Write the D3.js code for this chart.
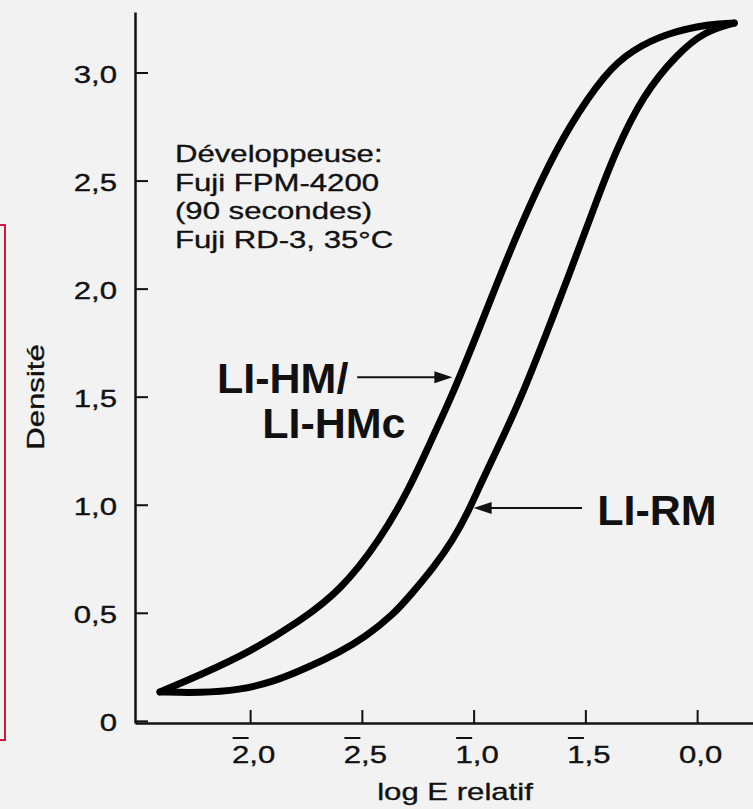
<!DOCTYPE html>
<html>
<head>
<meta charset="utf-8">
<script src="https://cdn.jsdelivr.net/npm/d3@7"></script>
<style>
    html, body { margin: 0; padding: 0; background: #f2f2f2; }
    svg { display: block; }
</style>
</head>
<body>
<div id="chart"></div>
<script>
/* DATA */
// X ticks (log E relatif, bar notation for negative characteristic)
const xTicks = [-2, -1.5, -1, -0.5, 0];
const xTickInt = ["2", "2", "1", "1", "0"];
const xTickFrac = ["0", "5", "0", "5", "0"];
const xTickBar = [true, true, true, true, false];
// Y ticks (Densité)
const yTicks = [0, 0.5, 1, 1.5, 2, 2.5, 3];
const yTickLabels = ["0", "0,5", "1,0", "1,5", "2,0", "2,5", "3,0"];
// LI-HM / LI-HMc curve
const hmLogE = [-2.403, -2.224, -2.000, -1.776, -1.597, -1.418, -1.284, -1.195, -1.105, -0.998, -0.904, -0.805, -0.698, -0.573, -0.407, -0.291, -0.134, 0.058, 0.166];
const hmDens = [0.134, 0.212, 0.319, 0.462, 0.601, 0.837, 1.082, 1.286, 1.485, 1.753, 2.003, 2.253, 2.503, 2.753, 3.003, 3.104, 3.183, 3.225, 3.229];
// LI-RM curve
const rmLogE = [-2.403, -2.224, -2.045, -1.897, -1.745, -1.597, -1.486, -1.360, -1.271, -1.181, -1.092, -1.025, -0.971, -0.881, -0.792, -0.680, -0.568, -0.465, -0.367, -0.242, -0.090, 0.036, 0.166];
const rmDens = [0.134, 0.129, 0.143, 0.180, 0.245, 0.319, 0.388, 0.490, 0.596, 0.707, 0.837, 0.966, 1.091, 1.286, 1.485, 1.776, 2.077, 2.364, 2.632, 2.896, 3.086, 3.192, 3.229];
// Notes
const devLines = ["Développeuse:", "Fuji FPM-4200", "(90 secondes)", "Fuji RD-3, 35°C"];

/* LAYOUT */
const W = 753, H = 809;
const font = "'Liberation Sans', Arial, Helvetica, sans-serif";
const ink = "#111";
const fs = 24.5;
const sx = 1.27; // regular text is set wide in the original

const svg = d3.select("#chart")
    .append("svg")
    .attr("width", W)
    .attr("height", H)
    .style("font-family", font);

svg.append("rect")
    .attr("width", W)
    .attr("height", H)
    .attr("fill", "#f2f2f2");

// Red crop mark at left
svg.append("rect")
    .attr("x", -10)
    .attr("y", 225)
    .attr("width", 15)
    .attr("height", 515)
    .attr("fill", "none")
    .attr("stroke", "#d3173f")
    .attr("stroke-width", 2);

// Scales
const x = d3.scaleLinear().domain([-2.515, 0.25]).range([135, 753]);
const y = d3.scaleLinear().domain([-0.01, 3.28]).range([723, 12]);

// Regular text helper (slightly heavier, wide set)
function regText(sel) {
    return sel.attr("font-size", fs)
        .attr("fill", ink)
        .attr("stroke", ink)
        .attr("stroke-width", 0.35);
}

// X axis
const gx = svg.append("g")
    .attr("transform", `translate(0, ${y.range()[0]})`)
    .call(d3.axisBottom(x).tickValues(xTicks).tickSizeInner(-13).tickSizeOuter(0).tickFormat(""));
gx.select(".domain").attr("stroke", ink).attr("stroke-width", 2.5);
gx.selectAll(".tick line").attr("stroke", ink).attr("stroke-width", 2);

// X tick labels with overbar on the characteristic
gx.selectAll(".tick").each(function (d, i) {
    const g = d3.select(this).append("g")
        .attr("transform", `translate(3, 40) scale(${sx}, 1)`);
    const t = g.append("text")
        .attr("text-anchor", "middle")
        .call(regText);
    t.append("tspan").text(xTickInt[i]);
    t.append("tspan").text("," + xTickFrac[i]);
    if (xTickBar[i]) {
        const n = t.node();
        const a = n.getStartPositionOfChar(0).x;
        const b = n.getEndPositionOfChar(0).x;
        g.append("line")
            .attr("x1", a + 0.5)
            .attr("x2", b - 0.5)
            .attr("y1", -25)
            .attr("y2", -25)
            .attr("stroke", ink)
            .attr("stroke-width", 2);
    }
});

// Y axis
const gy = svg.append("g")
    .attr("transform", `translate(${x.range()[0]}, 0)`)
    .call(d3.axisLeft(y).tickValues(yTicks).tickSizeInner(-13).tickSizeOuter(0)
        .tickFormat((d, i) => yTickLabels[i]));
gy.select(".domain").attr("stroke", ink).attr("stroke-width", 2.5);
gy.selectAll(".tick line").attr("stroke", ink).attr("stroke-width", 2);
gy.selectAll(".tick text")
    .attr("x", null)
    .attr("dy", "0.35em")
    .attr("transform", `translate(-18, 1) scale(${sx}, 1)`)
    .attr("font-family", font)
    .call(regText);

// Axis titles
svg.append("text")
    .attr("transform", `translate(${(x.range()[0] + x.range()[1]) / 2 + 11}, 800) scale(${sx}, 1)`)
    .attr("text-anchor", "middle")
    .call(regText)
    .text("log E relatif");

svg.append("text")
    .attr("transform", `translate(44, 397) rotate(-90) scale(${sx}, 1)`)
    .attr("text-anchor", "middle")
    .call(regText)
    .text("Densité");

// Curves
const line = d3.line()
    .x((d) => x(d[0]))
    .y((d) => y(d[1]))
    .curve(d3.curveBasis);

[[hmLogE, hmDens], [rmLogE, rmDens]].forEach(([xs, ys]) => {
    svg.append("path")
        .datum(xs.map((v, i) => [v, ys[i]]))
        .attr("d", line)
        .attr("fill", "none")
        .attr("stroke", "#000")
        .attr("stroke-width", 7)
        .attr("stroke-linecap", "round")
        .attr("stroke-linejoin", "round");
});

// Developer note
const note = svg.append("g");
devLines.forEach((s, i) => {
    note.append("text")
        .attr("transform", `translate(175, ${162 + i * 28.5}) scale(${sx}, 1)`)
        .call(regText)
        .text(s);
});

// Curve labels and arrows
function arrow(x1, x2, yv) {
    const dir = Math.sign(x2 - x1);
    const px1 = x(x1), px2 = x(x2), py = y(yv);
    svg.append("line")
        .attr("x1", px1).attr("x2", px2 - dir * 14)
        .attr("y1", py).attr("y2", py)
        .attr("stroke", ink)
        .attr("stroke-width", 2);
    svg.append("path")
        .attr("d", `M${px2},${py}L${px2 - dir * 18},${py - 6}L${px2 - dir * 18},${py + 6}Z`)
        .attr("fill", ink);
}

const bold = (s, xv, yv) => svg.append("text")
    .attr("x", x(xv))
    .attr("y", y(yv))
    .attr("font-size", 43)
    .attr("font-weight", "bold")
    .attr("fill", ink)
    .text(s);

bold("LI-HM/", -2.148, 1.516);
bold("LI-HMc", -1.946, 1.308);
bold("LI-RM", -0.447, 0.906);
arrow(-1.521, -1.095, 1.59);
arrow(-0.515, -1.0, 0.985);
</script>
</body>
</html>
